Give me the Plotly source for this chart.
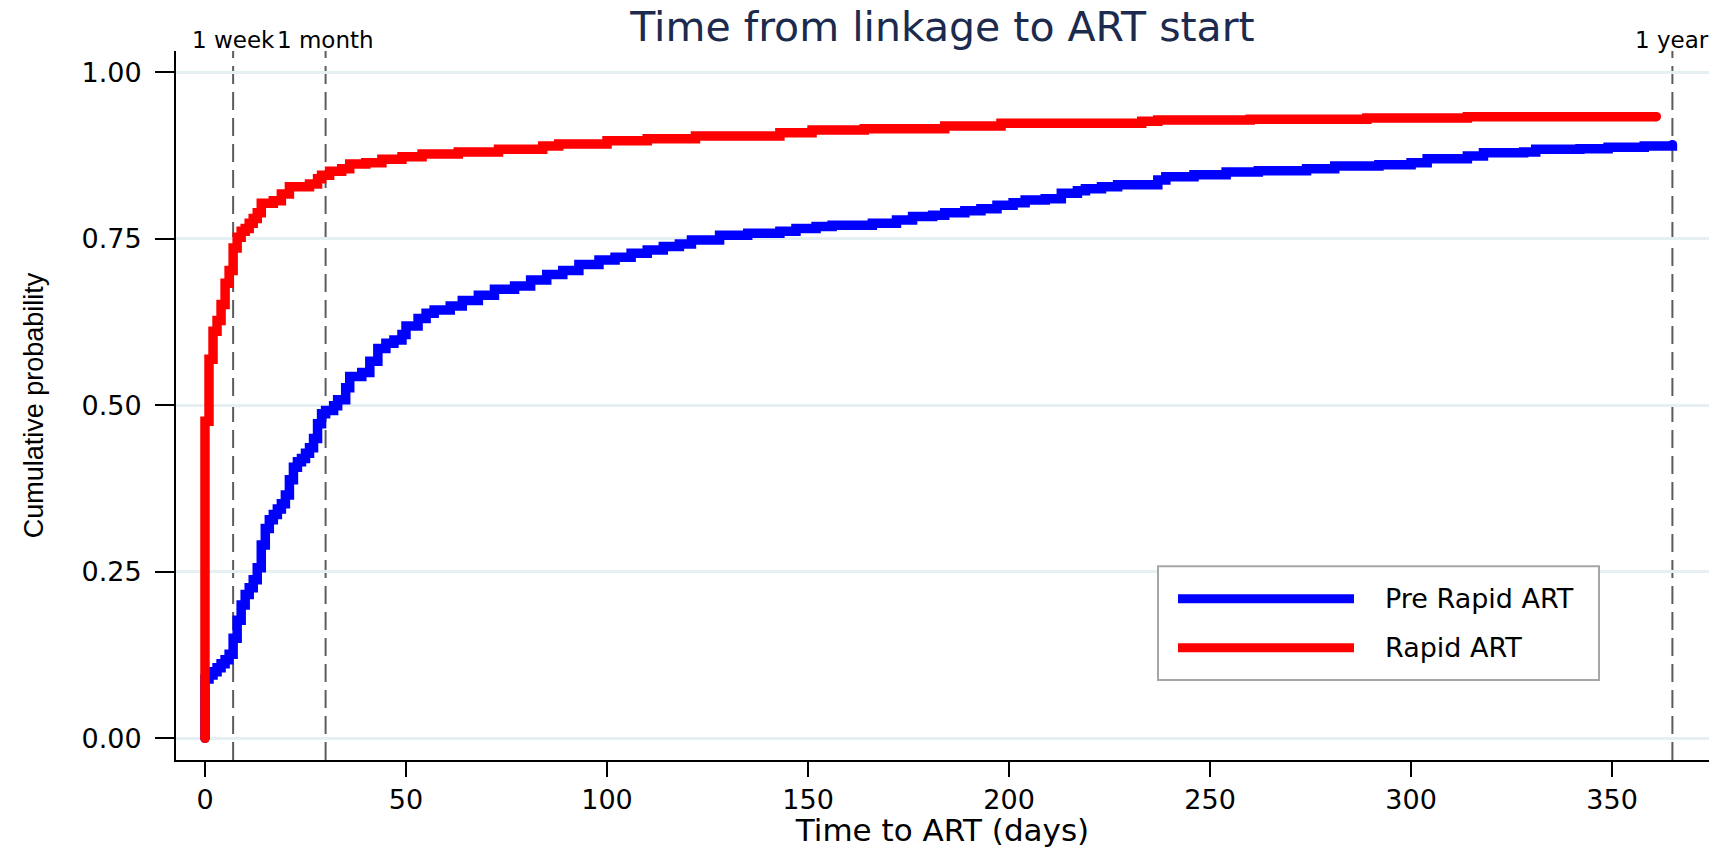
import plotly.graph_objects as go

# Cumulative probability of starting ART by day since linkage (Kaplan-Meier style steps)
pre_days = [0, 0, 1, 2, 3, 4, 5, 6, 7, 8, 9, 10, 11, 12, 13, 14, 15, 16, 17, 18,
            19, 20, 21, 22, 23, 24, 25, 26, 27, 28, 29, 30, 32, 33, 35, 36, 39, 41,
            43, 45, 47, 49, 50, 53, 55, 57, 61, 64, 68, 72, 77, 81, 85, 89, 93, 98,
            102, 106, 110, 114, 118, 121, 128, 135, 143, 147, 152, 156, 166, 172,
            176, 181, 184, 189, 193, 197, 201, 204, 209, 213, 217, 219, 223, 227,
            237, 239, 246, 254, 262, 274, 281, 292, 300, 304, 314, 318, 328, 331,
            342, 349, 358, 365]
pre_prob = [0.0, 0.089, 0.095, 0.100, 0.106, 0.112, 0.118, 0.126, 0.150, 0.177,
            0.200, 0.216, 0.226, 0.238, 0.256, 0.290, 0.315, 0.328, 0.336, 0.344,
            0.352, 0.365, 0.388, 0.407, 0.415, 0.420, 0.428, 0.436, 0.450, 0.472,
            0.487, 0.492, 0.499, 0.508, 0.526, 0.543, 0.549, 0.566, 0.585, 0.593,
            0.598, 0.606, 0.619, 0.630, 0.638, 0.643, 0.649, 0.657, 0.665, 0.674,
            0.679, 0.688, 0.696, 0.702, 0.711, 0.718, 0.722, 0.728, 0.733, 0.738,
            0.742, 0.748, 0.755, 0.758, 0.761, 0.765, 0.768, 0.770, 0.773, 0.778,
            0.783, 0.785, 0.789, 0.792, 0.795, 0.800, 0.804, 0.808, 0.810, 0.818,
            0.822, 0.825, 0.828, 0.831, 0.838, 0.843, 0.846, 0.850, 0.852, 0.855,
            0.859, 0.861, 0.864, 0.870, 0.874, 0.879, 0.880, 0.884, 0.885, 0.887,
            0.889, 0.891]

rapid_days = [0, 0, 1, 2, 3, 4, 5, 6, 7, 8, 9, 10, 11, 12, 13, 14, 17, 19, 21, 26,
              28, 29, 31, 34, 36, 40, 44, 49, 54, 63, 73, 84, 88, 100, 110, 122,
              143, 151, 164, 184, 198, 233, 237, 260, 289, 314, 361]
rapid_prob = [0.0, 0.476, 0.569, 0.611, 0.627, 0.651, 0.683, 0.702, 0.736, 0.752,
              0.761, 0.765, 0.773, 0.780, 0.789, 0.803, 0.807, 0.817, 0.828, 0.832,
              0.840, 0.845, 0.851, 0.855, 0.862, 0.864, 0.869, 0.873, 0.877, 0.880,
              0.884, 0.889, 0.892, 0.897, 0.900, 0.904, 0.909, 0.913, 0.915, 0.919,
              0.923, 0.926, 0.928, 0.929, 0.931, 0.933, 0.933]

series_names = ["Pre Rapid ART", "Rapid ART"]
series_colors = ["#0000ff", "#ff0000"]

ref_days = [7, 30, 365]
ref_labels = ["1 week", "1 month", "1 year"]

x_ticks = [0, 50, 100, 150, 200, 250, 300, 350]
y_ticks = [0, 0.25, 0.5, 0.75, 1.0]
y_tick_text = ["0.00", "0.25", "0.50", "0.75", "1.00"]

W, H = 1714, 848
M_L, M_R, M_T, M_B = 176, 5, 51, 80
LINE_W = 9.5
TXT = "DejaVu Sans"


def px_x(px):
    """page pixel column -> paper x"""
    return (px - M_L) / (W - M_L - M_R)


def px_y(py):
    """page pixel row -> paper y"""
    return (H - M_B - py) / (H - M_T - M_B)


fig = go.Figure()

for name, color, xs, ys in [
    (series_names[0], series_colors[0], pre_days, pre_prob),
    (series_names[1], series_colors[1], rapid_days, rapid_prob),
]:
    fig.add_trace(go.Scatter(
        x=xs, y=ys, mode="lines", name=name,
        line=dict(color=color, width=LINE_W, shape="hv"),
        showlegend=False,
    ))
    # round caps at both ends of each curve
    fig.add_trace(go.Scatter(
        x=[xs[0], xs[-1]], y=[ys[0], ys[-1]], mode="markers",
        marker=dict(color=color, size=LINE_W, line=dict(width=0)),
        showlegend=False, hoverinfo="skip",
    ))

# dashed reference lines and their labels along the top
for d, lab in zip(ref_days, ref_labels):
    fig.add_shape(type="line", x0=d, x1=d, xref="x", y0=0, y1=1, yref="paper",
                  line=dict(color="#5c5c5c", width=2, dash="18px,8px"),
                  layer="below")
    fig.add_annotation(x=d, xref="x", y=1, yref="paper", text=lab,
                       showarrow=False, xanchor="center", yanchor="bottom",
                       yshift=-4, font=dict(family=TXT, size=23, color="#000000"))

# legend box inside the plot area
fig.add_shape(type="rect", xref="paper", yref="paper",
              x0=px_x(1158), x1=px_x(1599), y0=px_y(687), y1=px_y(572),
              line=dict(color="#a6a6a6", width=2), fillcolor="white", layer="above")
for i, (name, color) in enumerate(zip(series_names, series_colors)):
    row_y = px_y(605 + 49.5 * i)
    fig.add_shape(type="line", xref="paper", yref="paper",
                  x0=px_x(1178), x1=px_x(1354), y0=row_y, y1=row_y,
                  line=dict(color=color, width=9), layer="above")
    fig.add_annotation(x=px_x(1383), y=row_y, xref="paper", yref="paper",
                       text=name, showarrow=False, xanchor="left", yanchor="middle",
                       font=dict(family=TXT, size=27, color="#000000"))

fig.update_layout(
    width=W, height=H,
    margin=dict(l=M_L, r=M_R, t=M_T, b=M_B),
    paper_bgcolor="white", plot_bgcolor="white",
    title=dict(text="Time from linkage to ART start",
               font=dict(family=TXT, size=41, color="#1c2a4e"),
               x=0.5, xref="paper", xanchor="center",
               y=1 - 27 / H, yref="container", yanchor="middle"),
    showlegend=False,
    xaxis=dict(range=[-7.21, 374.1], tickvals=x_ticks, showgrid=False,
               zeroline=False, showline=True, linecolor="black", linewidth=2,
               ticks="outside", ticklen=15, tickwidth=2, tickcolor="black",
               tickfont=dict(family=TXT, size=27, color="black"),
               title=dict(text="Time to ART (days)", standoff=6,
                          font=dict(family=TXT, size=31, color="black"))),
    yaxis=dict(range=[-0.0326, 1.0316], tickvals=y_ticks, ticktext=y_tick_text,
               showgrid=True, gridcolor="#e6eff1", gridwidth=2.5,
               zeroline=False, showline=True, linecolor="black", linewidth=2,
               ticks="outside", ticklen=19, tickwidth=2, tickcolor="black",
               ticklabelstandoff=8,
               tickfont=dict(family=TXT, size=27, color="black"),
               title=dict(text="Cumulative probability", standoff=30,
                          font=dict(family="Liberation Sans", size=27, color="black"))),
)

fig.write_html("out.html")
